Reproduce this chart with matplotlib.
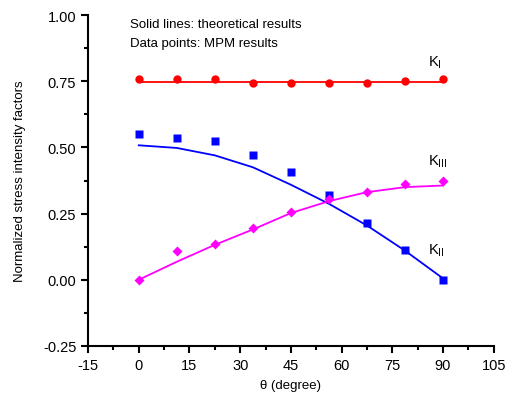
import numpy as np
import matplotlib.pyplot as plt
from matplotlib.ticker import MultipleLocator

plt.rcParams['font.family'] = ['Liberation Sans', 'DejaVu Sans']
plt.rcParams['axes.unicode_minus'] = False

theta = [0, 11.25, 22.5, 33.75, 45, 56.25, 67.5, 78.75, 90]

# theoretical results (lines)
k1_theory = [0.749, 0.749, 0.749, 0.749, 0.749, 0.749, 0.749, 0.749, 0.749]
k2_theory = [0.508, 0.498, 0.470, 0.425, 0.359, 0.287, 0.205, 0.110, 0.005]
k3_theory = [0.0, 0.068, 0.132, 0.190, 0.252, 0.297, 0.331, 0.350, 0.356]

# MPM results (points)
k1_mpm = [0.759, 0.760, 0.760, 0.742, 0.742, 0.742, 0.742, 0.750, 0.760]
k2_mpm = [0.551, 0.535, 0.525, 0.470, 0.407, 0.322, 0.215, 0.112, 0.0]
k3_mpm = [0.0, 0.108, 0.136, 0.195, 0.256, 0.306, 0.333, 0.360, 0.373]

fig = plt.figure(figsize=(5.09, 4.02), dpi=100)
ax = fig.add_axes([0.173, 0.137, 0.797, 0.823])

ax.plot(theta, k1_theory, color='#ff0000', lw=1.3)
ax.plot(theta, k2_theory, color='#0000ff', lw=1.3)
ax.plot(theta, k3_theory, color='#ff00ff', lw=1.3)
ax.plot(theta, k1_mpm, 'o', color='#ff0000', ms=6, mec='none')
ax.plot(theta, k2_mpm, 's', color='#0000ff', ms=5.5, mec='none')
ax.plot(theta, k3_mpm, 'D', color='#ff00ff', ms=5.5, mec='none')

ax.set_xlim(-15, 105)
ax.set_ylim(-0.25, 1.0)
ax.xaxis.set_major_locator(MultipleLocator(15))
ax.xaxis.set_minor_locator(MultipleLocator(7.5))
ax.yaxis.set_major_locator(MultipleLocator(0.25))
ax.yaxis.set_minor_locator(MultipleLocator(0.125))
ax.yaxis.set_major_formatter(plt.FormatStrFormatter('%.2f'))

for s in ['top', 'right']:
    ax.spines[s].set_visible(False)
for s in ['left', 'bottom']:
    ax.spines[s].set_linewidth(1.5)
ax.tick_params(which='major', direction='out', length=5, width=1.5, labelsize=10.5)
ax.tick_params(which='minor', direction='out', length=3, width=1.5)

ax.set_xlabel('θ (degree)', fontsize=9.5, labelpad=5)
ax.set_ylabel('Normalized stress intensity factors', fontsize=9.5, labelpad=12)

ax.text(-2.5, 0.965, 'Solid lines: theoretical results', fontsize=9.5, va='center')
ax.text(-2.5, 0.893, 'Data points: MPM results', fontsize=9.5, va='center')

ax.text(85.5, 0.825, r'K$_{\mathregular{I}}$', fontsize=10.5, va='center')
ax.text(85.5, 0.45, r'K$_{\mathregular{III}}$', fontsize=10.5, va='center')
ax.text(85.5, 0.115, r'K$_{\mathregular{II}}$', fontsize=10.5, va='center')

fig.savefig('out.png', dpi=100)
